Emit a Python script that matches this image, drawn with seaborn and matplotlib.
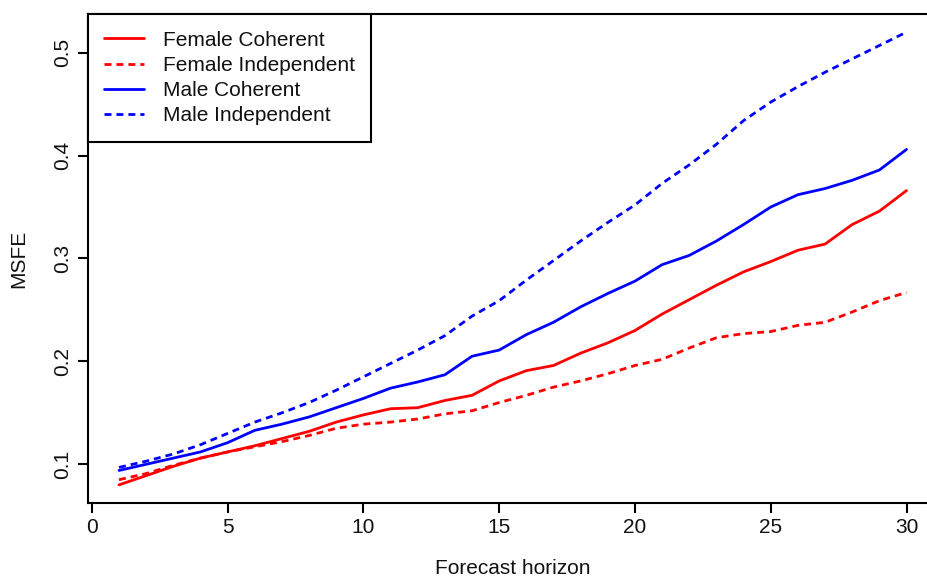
import matplotlib
matplotlib.use("Agg")
import matplotlib.pyplot as plt
import numpy as np
import pandas as pd
import seaborn as sns

horizon = list(range(1, 31))

female_coherent = [0.080, 0.089, 0.098, 0.106, 0.112, 0.118, 0.125, 0.132, 0.141, 0.148,
                   0.154, 0.155, 0.162, 0.167, 0.181, 0.191, 0.196, 0.208, 0.218, 0.230,
                   0.246, 0.260, 0.274, 0.287, 0.297, 0.308, 0.314, 0.333, 0.346, 0.366]
female_independent = [0.085, 0.091, 0.099, 0.106, 0.112, 0.117, 0.122, 0.128, 0.135, 0.139,
                      0.141, 0.144, 0.149, 0.152, 0.160, 0.167, 0.175, 0.181, 0.188, 0.196,
                      0.202, 0.213, 0.223, 0.227, 0.229, 0.235, 0.238, 0.248, 0.259, 0.267]
male_coherent = [0.094, 0.100, 0.106, 0.112, 0.121, 0.133, 0.139, 0.146, 0.155, 0.164,
                 0.174, 0.180, 0.187, 0.205, 0.211, 0.226, 0.238, 0.253, 0.266, 0.278,
                 0.294, 0.303, 0.317, 0.333, 0.350, 0.362, 0.368, 0.376, 0.386, 0.406]
male_independent = [0.097, 0.103, 0.110, 0.119, 0.130, 0.141, 0.150, 0.160, 0.172, 0.185,
                    0.198, 0.211, 0.225, 0.244, 0.259, 0.279, 0.298, 0.317, 0.335, 0.352,
                    0.373, 0.391, 0.411, 0.434, 0.452, 0.467, 0.481, 0.494, 0.507, 0.520]

series_names = ["Female Coherent", "Female Independent", "Male Coherent", "Male Independent"]
series_values = [female_coherent, female_independent, male_coherent, male_independent]

df = pd.concat(
    [pd.DataFrame({"h": horizon, "msfe": vals, "series": name})
     for name, vals in zip(series_names, series_values)],
    ignore_index=True,
)

sns.set_style("white")
plt.rcParams["font.family"] = ["Liberation Sans", "DejaVu Sans"]

fig = plt.figure(figsize=(9.28, 5.79), dpi=100)
ax = fig.add_axes([0.0943, 0.1313, 1.0108 - 0.0943, 0.9758 - 0.1313])

palette = {"Female Coherent": "#ff0000", "Female Independent": "#ff0000",
           "Male Coherent": "#0000ff", "Male Independent": "#0000ff"}
dash = (2.5, 1.8)
dashes = {"Female Coherent": "", "Female Independent": dash,
          "Male Coherent": "", "Male Independent": dash}

sns.lineplot(data=df, x="h", y="msfe", hue="series", style="series",
             palette=palette, dashes=dashes, hue_order=series_names,
             style_order=series_names, linewidth=2.0, ax=ax)

ax.set_xlim(1 - 0.04 * 29, 30 + 0.04 * 29)
ymin, ymax = min(map(min, series_values)), max(map(max, series_values))
pad = 0.04 * (ymax - ymin)
ax.set_ylim(ymin - pad, ymax + pad)

ax.set_xticks([0, 5, 10, 15, 20, 25, 30])
ax.set_yticks([0.1, 0.2, 0.3, 0.4, 0.5])
ax.set_yticklabels(["0.1", "0.2", "0.3", "0.4", "0.5"], rotation=90, va="center")

for s in ax.spines.values():
    s.set_color("black")
    s.set_linewidth(1.5)
ax.tick_params(axis="both", bottom=True, left=True, direction="out", length=7,
               width=1.5, color="black", labelsize=15, labelcolor="#111111")
ax.tick_params(axis="x", pad=4)
ax.tick_params(axis="y", pad=4)

ax.set_xlabel("Forecast horizon", fontsize=15, labelpad=16, color="#111111")
ax.set_ylabel("MSFE", fontsize=15, labelpad=18, color="#111111")

leg = ax.legend(loc="upper left", borderaxespad=0, fontsize=15, frameon=True,
                fancybox=False, handlelength=1.9, handletextpad=0.9,
                borderpad=0.8, labelspacing=0.3, title=None)
leg.get_frame().set_edgecolor("black")
leg.get_frame().set_linewidth(1.5)
leg.get_frame().set_alpha(1)
for t in leg.get_texts():
    t.set_color("#111111")

fig.savefig("out.png", dpi=100)
